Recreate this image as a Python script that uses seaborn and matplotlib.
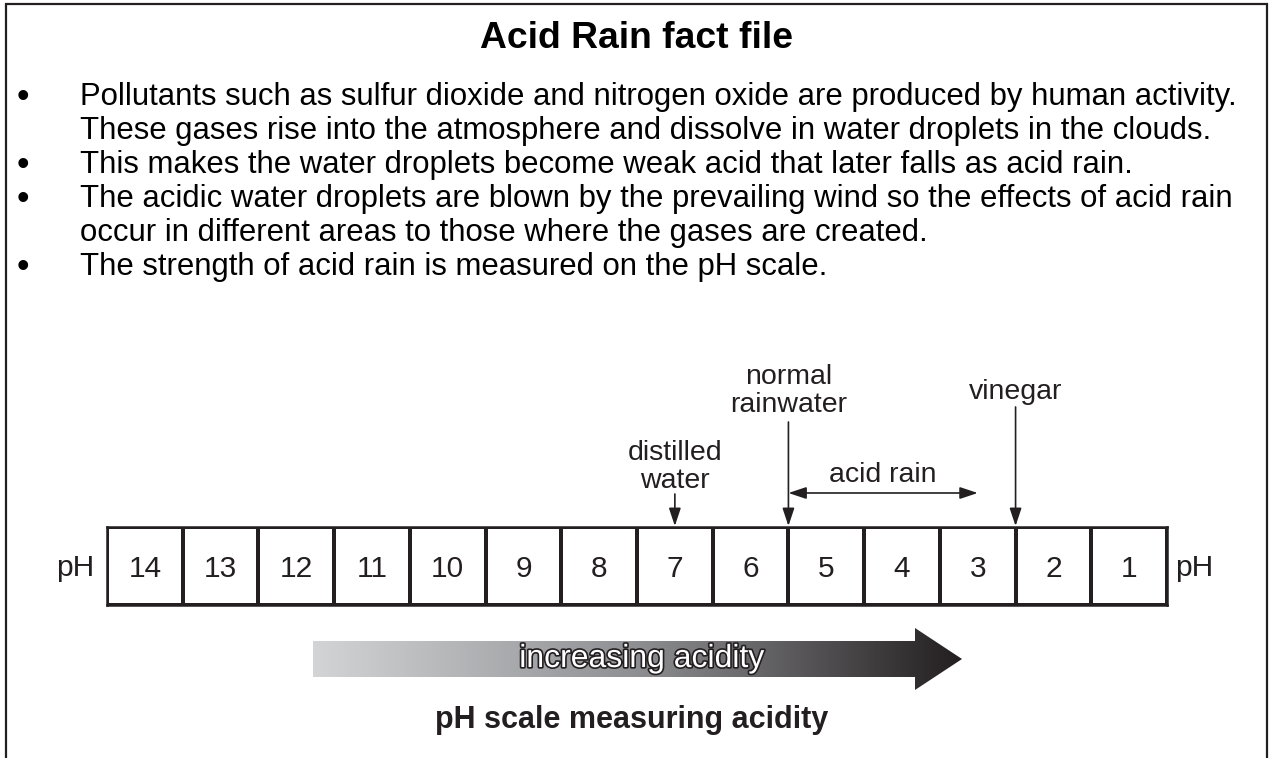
import numpy as np
import matplotlib
matplotlib.use("Agg")
import matplotlib.pyplot as plt
import seaborn as sns
from matplotlib.colors import ListedColormap, LinearSegmentedColormap
from matplotlib.patches import Polygon
import matplotlib.patheffects as pe

# ---------------- data ----------------
title = "Acid Rain fact file"
fact_lines = [
    "Pollutants such as sulfur dioxide and nitrogen oxide are produced by human activity.",
    "These gases rise into the atmosphere and dissolve in water droplets in the clouds.",
    "This makes the water droplets become weak acid that later falls as acid rain.",
    "The acidic water droplets are blown by the prevailing wind so the effects of acid rain",
    "occur in different areas to those where the gases are created.",
    "The strength of acid rain is measured on the pH scale.",
]
fact_bullet = [True, False, True, True, False, True]
ph_values = [14, 13, 12, 11, 10, 9, 8, 7, 6, 5, 4, 3, 2, 1]
marker_labels = ["distilled\nwater", "normal\nrainwater", "vinegar"]
marker_ph = [7.0, 5.5, 2.5]
acid_rain_label = "acid rain"
acid_rain_range = [5.5, 3.0]
gradient_label = "increasing acidity"
caption = "pH scale measuring acidity"

INK = "#231f20"

sns.set_theme(style="white")
plt.rcParams["font.family"] = ["Liberation Sans", "DejaVu Sans"]

W, H = 1271, 758
fig = plt.figure(figsize=(W / 100, H / 100), dpi=100)
fig.patch.set_facecolor("white")

ax = fig.add_axes([0, 0, 1, 1])
ax.set_xlim(0, W)
ax.set_ylim(H, 0)
ax.axis("off")

# frame (open at the bottom)
ax.plot([6, 6, 1267, 1267], [H + 5, 4, 4, H + 5], color=INK, lw=1.6,
        solid_joinstyle="miter", clip_on=False)

# title
ax.text(637, 38, title, ha="center", va="center", fontsize=26.8,
        fontweight="bold", color="black")

# bullet lines
y0, dy = 97, 34
for i, (line, b) in enumerate(zip(fact_lines, fact_bullet)):
    y = y0 + i * dy
    if b:
        ax.text(23, y, "\u2022", ha="center", va="center", fontsize=26, color="black")
    ax.text(80, y, line, ha="left", va="center", fontsize=22.4, color="black")

# pH scale (heatmap)
bx0, bx1, by0, by1 = 107, 1167, 527, 605
ax_hm = fig.add_axes([bx0 / W, 1 - by1 / H, (bx1 - bx0) / W, (by1 - by0) / H])
data = np.array([ph_values], dtype=float)
sns.heatmap(data, ax=ax_hm, cmap=ListedColormap(["white"]), cbar=False,
            annot=np.array([[str(v) for v in ph_values]]), fmt="",
            annot_kws=dict(fontsize=21.5, color=INK),
            linewidths=1.6, linecolor=INK, xticklabels=False, yticklabels=False)
for s in ax_hm.spines.values():
    s.set_visible(True)
    s.set_linewidth(1.8)
    s.set_color(INK)
for t in ax_hm.texts:
    x, y = t.get_position()
    t.set_position((x, y + 0.04))

ax.text(bx0 - 13, 568, "pH", ha="right", va="center", fontsize=21.5, color=INK)
ax.text(bx1 + 8, 568, "pH", ha="left", va="center", fontsize=21.5, color=INK)


def ph_x(v):
    """map a pH value to overlay x through the heatmap's own scale"""
    disp = ax_hm.transData.transform((14.5 - v, 0.5))
    return ax.transData.inverted().transform(disp)[0]


arrow_kw = dict(arrowstyle="-|>,head_length=0.6,head_width=0.2", color=INK,
                lw=1.2, shrinkA=0, shrinkB=0, mutation_scale=18)

# marker arrows + labels
arrow_start = [494, 422, 407]
label_bottom = [494, 418, 405]
for lab, v, ys, yb in zip(marker_labels, marker_ph, arrow_start, label_bottom):
    x = ph_x(v)
    ax.annotate("", xy=(x, by0 - 1), xytext=(x, ys), arrowprops=arrow_kw)
    ax.text(x, yb, lab, ha="center", va="bottom", fontsize=20.5, color=INK,
            linespacing=1.12)

# acid rain range
xa, xb = ph_x(acid_rain_range[0]), ph_x(acid_rain_range[1])
ax.annotate("", xy=(xb, 493), xytext=(xa, 493),
            arrowprops=dict(arrowstyle="<|-|>,head_length=0.6,head_width=0.2",
                            color=INK, lw=1.2, shrinkA=0, shrinkB=0,
                            mutation_scale=18))
ax.text((xa + xb) / 2, 475, acid_rain_label, ha="center", va="center",
        fontsize=20.5, color=INK)

# gradient arrow
gx0, gx1, gtip = 313, 915, 962
gt, gb, ht, hb = 641, 677, 628, 690
poly = Polygon([(gx0, gt), (gx1, gt), (gx1, ht), (gtip, (gt + gb) / 2),
                (gx1, hb), (gx1, gb), (gx0, gb)], closed=True,
               facecolor="none", edgecolor="none")
ax.add_patch(poly)
cmap_g = LinearSegmentedColormap.from_list("g", ["#d3d4d6", "#8e8f92", INK])
grad = np.linspace(0, 1, 512).reshape(1, -1)
im = ax.imshow(grad, cmap=cmap_g, extent=[gx0, gtip, hb, ht], aspect="auto",
               interpolation="bilinear")
im.set_clip_path(poly)
ax.set_xlim(0, W)
ax.set_ylim(H, 0)

ax.text(642, 659, gradient_label, ha="center", va="center", fontsize=23,
        color="white",
        path_effects=[pe.withStroke(linewidth=2.4, foreground=INK)])

ax.text(632, 720, caption, ha="center", va="center", fontsize=22,
        fontweight="bold", color=INK)

fig.savefig("out.png", dpi=100, facecolor="white")
